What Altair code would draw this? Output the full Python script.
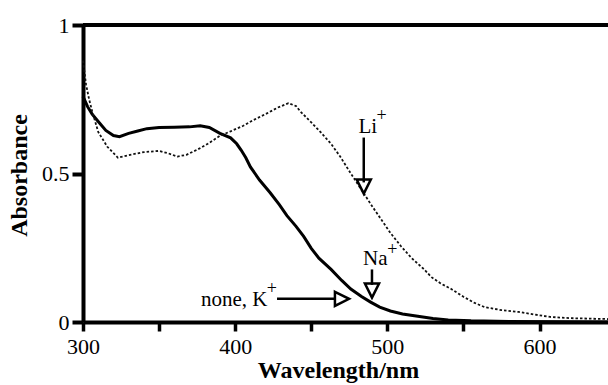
import altair as alt
import pandas as pd

# Solid curve: none / K+ / Na+ (overlapping)
wl_none = [300, 303, 306, 310, 315, 320, 324, 330, 336, 342, 350, 360, 370, 377, 383, 390, 397, 401, 404, 407, 410,
           416, 423, 429, 434, 440, 445, 450, 455, 463, 470, 476, 483, 489, 495, 502, 510, 520, 530, 540, 555, 580,
           610, 645]
abs_none = [0.76, 0.725, 0.70, 0.675, 0.645, 0.628, 0.624, 0.635, 0.643, 0.651, 0.655, 0.656, 0.657, 0.661, 0.655,
            0.635, 0.62, 0.60, 0.578, 0.553, 0.522, 0.478, 0.435, 0.395, 0.358, 0.322, 0.288, 0.248, 0.215, 0.177,
            0.14, 0.111, 0.086, 0.067, 0.05, 0.037, 0.027, 0.019, 0.012, 0.007, 0.004, 0.002, 0.001, 0.0]

# Dotted curve: Li+
wl_li = [300, 302, 304, 306, 310, 316, 323, 330, 340, 350, 356, 362, 368, 375, 382, 390, 397, 405, 412, 420, 428,
         435, 440, 443, 450, 456, 463, 469, 476, 483, 490, 496, 502, 509, 516, 524, 529, 535, 542, 550, 557, 564,
         575, 586, 597, 607, 620, 635, 645]
abs_li = [0.88, 0.80, 0.75, 0.71, 0.64, 0.59, 0.553, 0.562, 0.572, 0.576, 0.568, 0.557, 0.563, 0.58, 0.60, 0.627,
          0.642, 0.66, 0.68, 0.70, 0.722, 0.737, 0.727, 0.708, 0.672, 0.64, 0.60, 0.557, 0.50, 0.445, 0.39, 0.345,
          0.30, 0.255, 0.215, 0.178, 0.151, 0.13, 0.111, 0.085, 0.065, 0.05, 0.04, 0.034, 0.025, 0.017, 0.013,
          0.011, 0.01]

# Annotations (data coordinates)
label_text = ["Li", "Na", "none, K"]
label_x = [481, 484, 377.5]
label_y = [0.638, 0.193, 0.053]
sup_x = [496.2, 503.2, 424.1]
sup_y = [0.692, 0.243, 0.110]

arrow_x1 = [484.5, 489.9, 427.5]
arrow_x2 = [484.5, 489.9, 466.0]
arrow_y1 = [0.621, 0.177, 0.078]
arrow_y2 = [0.47, 0.125, 0.078]

head_x = [484.5, 489.9, 470.2]
head_y = [0.456, 0.106, 0.078]
head_dir = ["down", "down", "right"]

FONT = "Liberation Serif"
XDOM = [300, 645]

df_none = pd.DataFrame({"wl": wl_none, "a": abs_none})
df_li = pd.DataFrame({"wl": wl_li, "a": abs_li})
df_lab = pd.DataFrame({"x": label_x, "y": label_y, "t": label_text})
df_sup = pd.DataFrame({"x": sup_x, "y": sup_y, "t": ["+"] * 3})
df_arr = pd.DataFrame({"x": arrow_x1, "x2": arrow_x2, "y": arrow_y1, "y2": arrow_y2})
df_head = pd.DataFrame({"x": head_x, "y": head_y, "d": head_dir})

xsc = alt.Scale(domain=XDOM, nice=False, zero=False)
ysc = alt.Scale(domain=[0, 1], nice=False, zero=True)

xaxis = alt.Axis(
    values=[300, 350, 400, 450, 500, 550, 600],
    labelExpr="datum.value % 100 == 0 ? datum.label : ''",
    title="Wavelength/nm", titleX=255, titleY=55, titleBaseline="alphabetic", titleAlign="center",
    grid=False, tickSize=9, tickWidth=3.5, labelPadding=5, domainWidth=4, labelFlush=False,
)
yaxis = alt.Axis(
    values=[0, 0.5, 1], format="~g", title="Absorbance",
    titleX=-64, titleY=150, titleAngle=270, titleAlign="center", titleBaseline="middle",
    grid=False, tickSize=11, tickWidth=4, labelPadding=3, domainWidth=4, labelFlush=False,
)

solid = alt.Chart(df_none).mark_line(color="black", strokeWidth=3).encode(
    x=alt.X("wl:Q", scale=xsc, axis=xaxis),
    y=alt.Y("a:Q", scale=ysc, axis=yaxis),
)
li = alt.Chart(df_li).mark_line(color="#111111", strokeWidth=1.8, strokeDash=[2.5, 2]).encode(
    x=alt.X("wl:Q", scale=xsc), y=alt.Y("a:Q", scale=ysc)
)
top = alt.Chart(pd.DataFrame({"y": [1]})).mark_rule(color="black", strokeWidth=4).encode(
    y=alt.Y("y:Q", scale=ysc)
)
arrows = alt.Chart(df_arr).mark_rule(color="black", strokeWidth=2.5).encode(
    x=alt.X("x:Q", scale=xsc), x2="x2:Q", y=alt.Y("y:Q", scale=ysc), y2="y2:Q"
)
head_down = alt.Chart(df_head).transform_filter("datum.d == 'down'").mark_point(
    shape="M-1,-1L1,-1L0,1Z", filled=False, stroke="black", strokeWidth=2.5, size=200, opacity=1
).encode(x=alt.X("x:Q", scale=xsc), y=alt.Y("y:Q", scale=ysc))
head_right = alt.Chart(df_head).transform_filter("datum.d == 'right'").mark_point(
    shape="M-1,-1L1,0L-1,1Z", filled=False, stroke="black", strokeWidth=2.5, size=200, opacity=1
).encode(x=alt.X("x:Q", scale=xsc), y=alt.Y("y:Q", scale=ysc))
labels = alt.Chart(df_lab).mark_text(font=FONT, fontSize=21, align="left", baseline="alphabetic", color="black").encode(
    x=alt.X("x:Q", scale=xsc), y=alt.Y("y:Q", scale=ysc), text="t:N"
)
sups = alt.Chart(df_sup).mark_text(font=FONT, fontSize=18, align="center", baseline="middle", color="black").encode(
    x=alt.X("x:Q", scale=xsc), y=alt.Y("y:Q", scale=ysc), text="t:N"
)

chart = alt.layer(solid, li, top, arrows, head_down, head_right, labels, sups).properties(
    width=525, height=297,
    autosize=alt.AutoSizeParams(type="none"),
    padding={"left": 83, "top": 25, "right": 0, "bottom": 63},
    background="white",
).configure_view(stroke=None).configure_axis(
    labelFont=FONT, titleFont=FONT, labelFontSize=22, titleFontSize=24, titleFontWeight="bold",
    labelColor="black", titleColor="black", domainColor="black", tickColor="black",
)

chart.save("out.html", embed_options={"renderer": "svg", "actions": False})
